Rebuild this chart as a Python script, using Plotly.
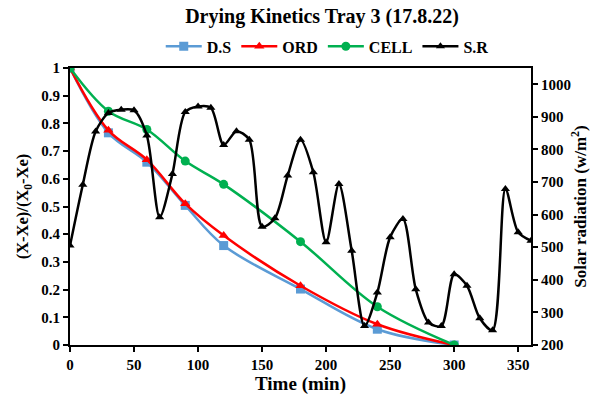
import plotly.graph_objects as go

# Moisture ratio sampling times (min)
t_moist = [0, 30, 60, 90, 120, 180, 240, 300]
ds = [1.0, 0.766, 0.66, 0.504, 0.359, 0.202, 0.057, 0.0]
ord_ = [1.0, 0.775, 0.669, 0.51, 0.395, 0.214, 0.075, 0.0]
cell = [1.0, 0.844, 0.778, 0.664, 0.58, 0.373, 0.138, 0.0]

# Solar radiation readings every 10 min (W/m^2)
t_sr = list(range(0, 370, 10))
sr = [505, 692, 855, 912, 922, 920, 843, 592, 725, 915,
      932, 928, 814, 856, 830, 563, 589, 720, 830, 730,
      515, 694, 489, 258, 361, 531, 587, 371, 269, 258,
      417, 382, 282, 245, 679, 546, 520]

x_ticks = [0, 50, 100, 150, 200, 250, 300, 350]

FONT = "Liberation Serif"

fig = go.Figure()
fig.add_trace(go.Scatter(
    x=t_moist, y=ds, name="D.S", mode="lines+markers",
    line=dict(color="#5B9BD5", width=2.5, shape="spline"),
    marker=dict(symbol="square", size=9, color="#5B9BD5")))
fig.add_trace(go.Scatter(
    x=t_moist, y=ord_, name="ORD", mode="lines+markers",
    line=dict(color="#FF0000", width=2.5, shape="spline"),
    marker=dict(symbol="triangle-up", size=9, color="#FF0000")))
fig.add_trace(go.Scatter(
    x=t_moist, y=cell, name="CELL", mode="lines+markers",
    line=dict(color="#00B050", width=2.5, shape="spline"),
    marker=dict(symbol="circle", size=9, color="#00B050")))
fig.add_trace(go.Scatter(
    x=t_sr, y=sr, name="S.R", mode="lines+markers", yaxis="y2",
    line=dict(color="#000000", width=2.5, shape="spline", smoothing=0.8),
    marker=dict(symbol="triangle-up", size=8, color="#000000")))

axis_common = dict(
    showline=True, linecolor="black", linewidth=2,
    ticks="outside", tickcolor="black", ticklen=5, tickwidth=1.5,
    showgrid=False, zeroline=False, automargin=False,
    tickfont=dict(family=FONT, size=15, color="black", weight="bold"),
)

fig.update_layout(
    width=595, height=405,
    margin=dict(l=70, r=64, t=68, b=60),
    paper_bgcolor="white", plot_bgcolor="white",
    font=dict(family=FONT, color="black"),
    title=dict(text="Drying Kinetics Tray 3 (17.8.22)",
               x=(322 / 595), xanchor="center", y=1 - 16 / 405, yanchor="middle",
               font=dict(family=FONT, size=20, color="black", weight="bold")),
    legend=dict(orientation="h", x=0.558, xanchor="center", y=1.078, yanchor="middle",
                font=dict(family=FONT, size=16, color="black", weight="bold"),
                itemwidth=36, tracegroupgap=0, bgcolor="rgba(0,0,0,0)"),
    xaxis=dict(range=[0, 360], tickvals=x_ticks, mirror=True,
               title=dict(text="Time (min)", standoff=4,
                          font=dict(family=FONT, size=19, color="black", weight="bold")),
               **axis_common),
    yaxis=dict(range=[0, 1], dtick=0.1, tickformat="~g",
               title=dict(text="(X-Xe)/(X<sub>0</sub>-Xe)", standoff=8,
                          font=dict(family=FONT, size=16.5, color="black", weight="bold")),
               **axis_common),
    yaxis2=dict(range=[200, 1050], dtick=100, tick0=200, overlaying="y", side="right",
                title=dict(text="Solar radiation (w/m<sup>2</sup>)", standoff=4,
                           font=dict(family=FONT, size=17, color="black", weight="bold")),
                **axis_common),
)

fig.write_html("out.html")
